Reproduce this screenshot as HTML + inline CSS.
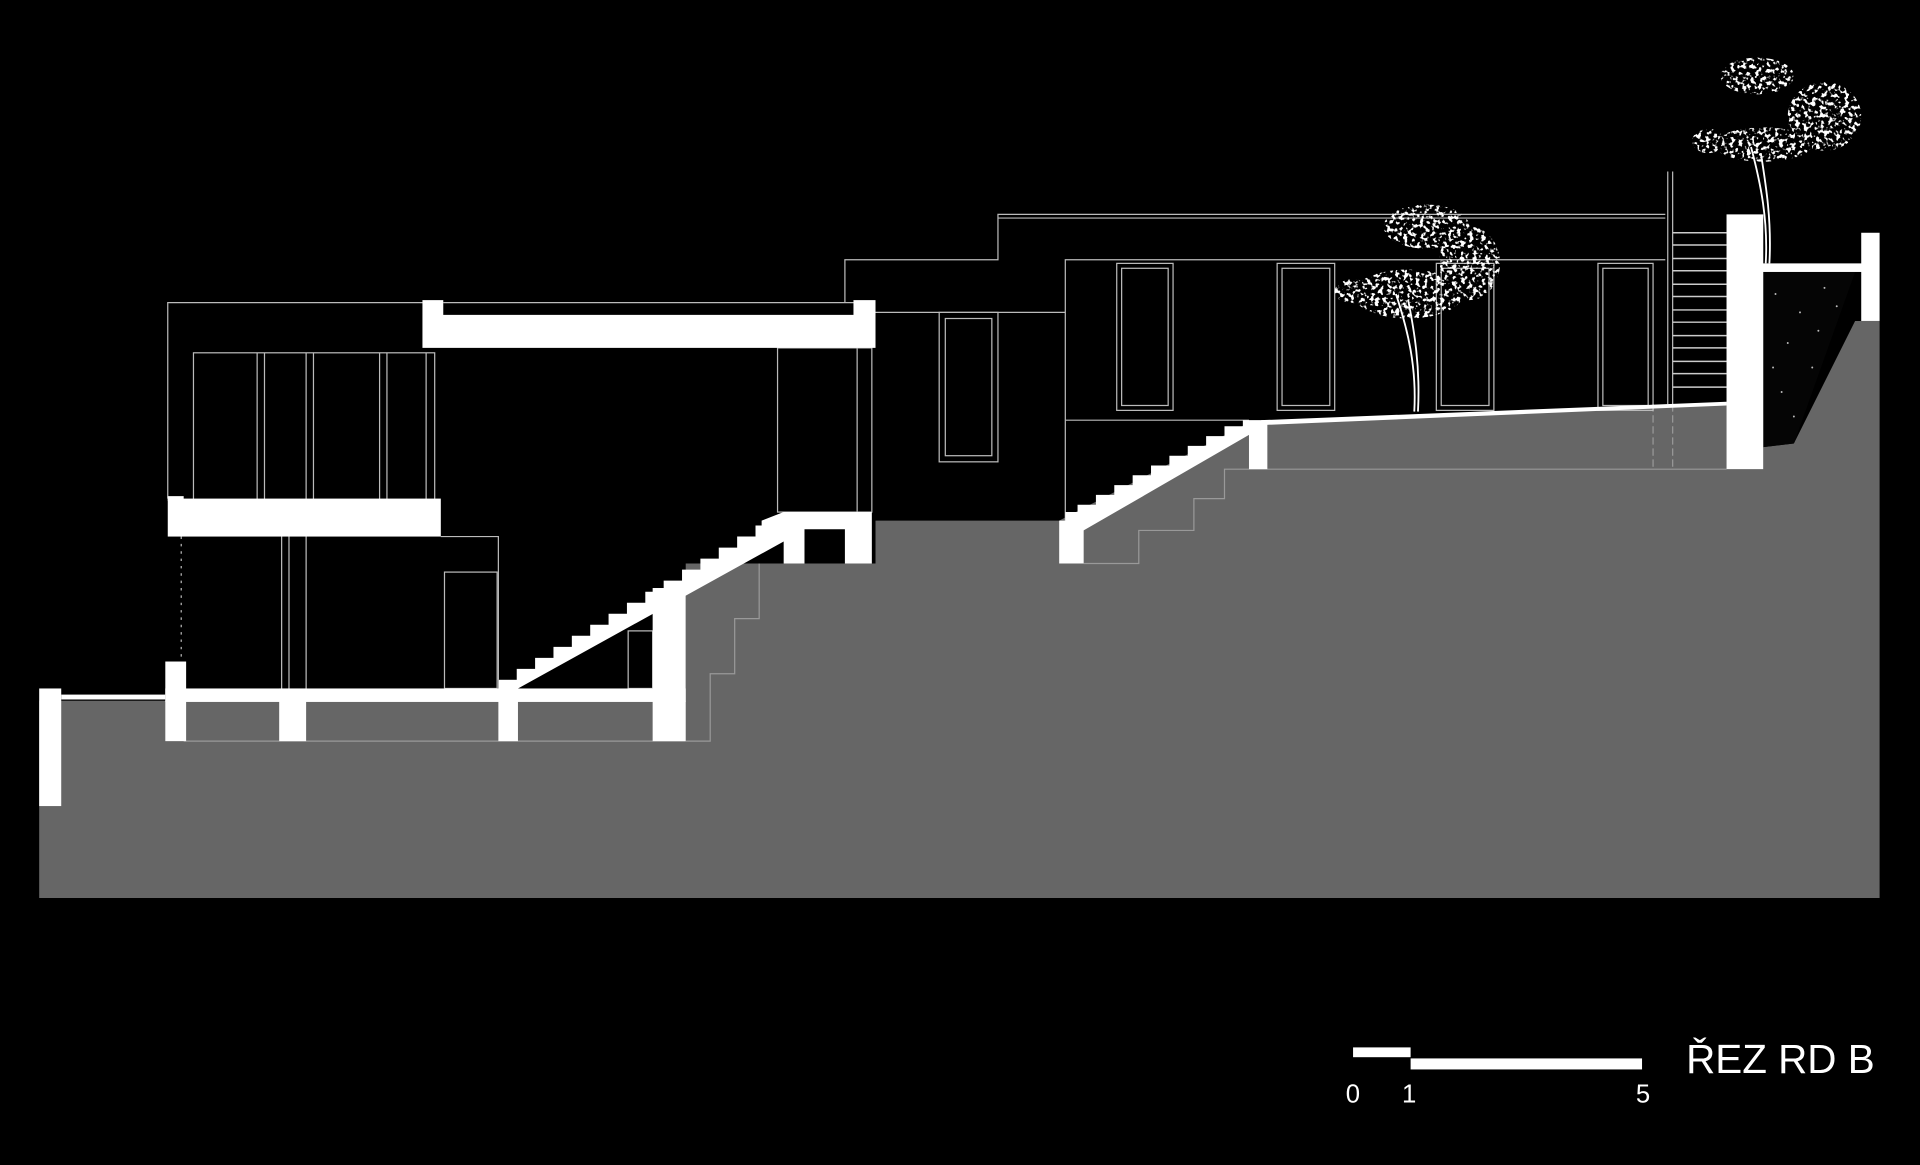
<!DOCTYPE html>
<html><head><meta charset="utf-8"><style>
html,body{margin:0;padding:0;background:#000;}
svg{display:block;}
</style></head><body>
<svg width="1920" height="1165" viewBox="0 0 1568 951" preserveAspectRatio="none" xmlns="http://www.w3.org/2000/svg">
<defs>
<filter id="leaf" x="0" y="0" width="1" height="1">
<feTurbulence type="fractalNoise" baseFrequency="0.3" numOctaves="2" seed="3" result="n"/>
<feColorMatrix in="n" type="matrix" values="0 0 0 0 1  0 0 0 0 1  0 0 0 0 1  0 0 0 10 -5.2" result="m"/>
<feComposite in="m" in2="SourceGraphic" operator="in"/>
</filter>
</defs>
<rect width="1568" height="951" fill="#000"/>
<polygon fill="#666" points="32,572 560,572 560,460 715,460 715,425 865,425 1020,345 1410,330 1410,383 1440,383 1440,365 1465,362 1515,262 1535,262 1535,733 32,733"/>
<g stroke="#999" stroke-width="1" fill="none">
<polyline points="560,605 580,605 580,550 600,550 600,505 620,505 620,460"/>
<polyline points="885,460 930,460 930,433 975,433 975,407 1000,407 1000,383 1030,383 1410,383"/>
<line x1="150" y1="605" x2="560" y2="605"/>
<line x1="1350" y1="330" x2="1350" y2="383" stroke-dasharray="6,3"/>
<line x1="1366" y1="330" x2="1366" y2="383" stroke-dasharray="6,3"/>
</g>
<polygon fill="#050505" points="1440,222 1515,222 1465,362 1440,365"/>
<g fill="#bbb">
<circle cx="1450" cy="240" r="0.8"/><circle cx="1470" cy="255" r="0.8"/><circle cx="1490" cy="235" r="0.8"/><circle cx="1460" cy="280" r="0.8"/><circle cx="1480" cy="300" r="0.8"/><circle cx="1455" cy="320" r="0.8"/><circle cx="1500" cy="250" r="0.8"/><circle cx="1465" cy="340" r="0.8"/><circle cx="1485" cy="270" r="0.8"/><circle cx="1448" cy="300" r="0.8"/>
</g>
<g stroke="#bbb" stroke-width="1" fill="none">
<polyline points="137,407 137,247 345,247"/>
<line x1="362" y1="247" x2="697" y2="247"/>
<rect x="158" y="288" width="197" height="122"/>
<line x1="210" y1="288" x2="210" y2="410"/><line x1="216" y1="288" x2="216" y2="410"/>
<line x1="250" y1="288" x2="250" y2="410"/><line x1="256" y1="288" x2="256" y2="410"/>
<line x1="310" y1="288" x2="310" y2="410"/><line x1="316" y1="288" x2="316" y2="410"/>
<line x1="348" y1="288" x2="348" y2="410"/>
<line x1="230" y1="438" x2="230" y2="562"/><line x1="236" y1="438" x2="236" y2="562"/><line x1="250" y1="438" x2="250" y2="562"/>
<polyline points="360,438 407,438 407,555"/>
<rect x="363" y="467" width="43" height="95"/>
<line x1="148" y1="438" x2="148" y2="540" stroke-dasharray="2,4"/>
<rect x="513" y="515" width="20" height="47"/>
<rect x="635" y="284" width="77" height="134"/>
<line x1="700" y1="284" x2="700" y2="418"/>
<polyline points="690,247 690,212 815,212 815,175 1360,175"/>
<line x1="815" y1="178" x2="1360" y2="178"/>
<line x1="715" y1="255" x2="870" y2="255"/>
<polyline points="870,425 870,212 1360,212"/>
<line x1="870" y1="343" x2="1020" y2="343"/>
<rect x="767" y="255" width="48" height="122"/><rect x="772" y="260" width="38" height="112"/>
<rect x="912" y="215" width="46" height="120"/><rect x="916" y="219" width="38" height="112"/>
<rect x="1043" y="215" width="47" height="120"/><rect x="1047" y="219" width="39" height="112"/>
<rect x="1173" y="215" width="47" height="120"/><rect x="1177" y="219" width="39" height="112"/>
<rect x="1305" y="215" width="45" height="120"/><rect x="1309" y="219" width="37" height="112"/>
<line x1="1362" y1="140" x2="1362" y2="330"/><line x1="1366" y1="140" x2="1366" y2="330"/>
</g>
<g stroke="#ccc" stroke-width="1.2">
<line x1="1366" y1="190" x2="1410" y2="190"/><line x1="1366" y1="200" x2="1410" y2="200"/><line x1="1366" y1="211" x2="1410" y2="211"/><line x1="1366" y1="221" x2="1410" y2="221"/><line x1="1366" y1="232" x2="1410" y2="232"/><line x1="1366" y1="242" x2="1410" y2="242"/><line x1="1366" y1="253" x2="1410" y2="253"/><line x1="1366" y1="263" x2="1410" y2="263"/><line x1="1366" y1="274" x2="1410" y2="274"/><line x1="1366" y1="284" x2="1410" y2="284"/><line x1="1366" y1="295" x2="1410" y2="295"/><line x1="1366" y1="305" x2="1410" y2="305"/><line x1="1366" y1="316" x2="1410" y2="316"/>
</g>
<g fill="#fff">
<rect x="32" y="562" width="18" height="96"/>
<rect x="50" y="567" width="85" height="4"/>
<rect x="135" y="540" width="17" height="65"/>
<rect x="135" y="562" width="425" height="11"/>
<rect x="228" y="562" width="22" height="43"/>
<rect x="407" y="555" width="16" height="50"/>
<rect x="533" y="480" width="27" height="125"/>
<polygon points="407,562 407,555 422,555 422,546 437,546 437,537 452,537 452,528 467,528 467,519 482,519 482,510 497,510 497,501 512,501 512,492 527,492 527,483 542,483 542,474 557,474 557,465 572,465 572,456 587,456 587,447 602,447 602,438 617,438 617,429 622,429 622,425 640,418 712,418 712,460 690,460 690,432 657,432 657,460 640,460 640,442 423,562"/>
<rect x="137" y="407" width="223" height="31"/>
<rect x="137" y="405" width="13" height="4"/>
<polygon points="345,245 362,245 362,257 697,257 697,245 715,245 715,284 345,284"/>
<polygon points="865,425 870,425 870,418 880,418 880,412 895,412 895,404 910,404 910,396 925,396 925,388 940,388 940,380 955,380 955,372 970,372 970,364 985,364 985,356 1000,356 1000,348 1015,348 1015,343 1035,343 1035,383 1020,383 1020,355 885,433 885,460 865,460"/>
<polygon points="1030,343 1410,328 1410,331 1030,347"/>
<rect x="1410" y="175" width="30" height="208"/>
<rect x="1520" y="190" width="15" height="72"/>
<rect x="1428" y="215" width="94" height="7"/>
</g>
<g stroke="#fff" fill="none" stroke-width="1.5">
<path d="M1158,336 C1160,300 1155,270 1150,245"/>
<path d="M1155,336 C1157,300 1150,270 1140,240"/>
<path d="M1445,215 C1447,180 1442,150 1438,125"/>
<path d="M1442,215 C1444,180 1438,150 1430,120"/>
</g>
<g fill="#fff" filter="url(#leaf)">
<ellipse cx="1165" cy="185" rx="35" ry="18"/>
<ellipse cx="1200" cy="215" rx="25" ry="30"/>
<ellipse cx="1150" cy="240" rx="45" ry="20"/>
<ellipse cx="1105" cy="238" rx="15" ry="10"/>
<ellipse cx="1435" cy="62" rx="30" ry="15"/>
<ellipse cx="1490" cy="95" rx="30" ry="28"/>
<ellipse cx="1440" cy="118" rx="40" ry="14"/>
<ellipse cx="1395" cy="115" rx="13" ry="10"/>
</g>
<rect x="1105" y="855" width="47" height="8" fill="#fff"/>
<rect x="1152" y="864" width="189" height="9" fill="#fff"/>
<g fill="#fff" font-family="Liberation Sans, sans-serif" font-size="21">
<text x="1099" y="900">0</text><text x="1145" y="900">1</text><text x="1336" y="900">5</text>
<text x="1377" y="876" font-size="33">ŘEZ RD B</text>
</g>
</svg>
</body></html>
